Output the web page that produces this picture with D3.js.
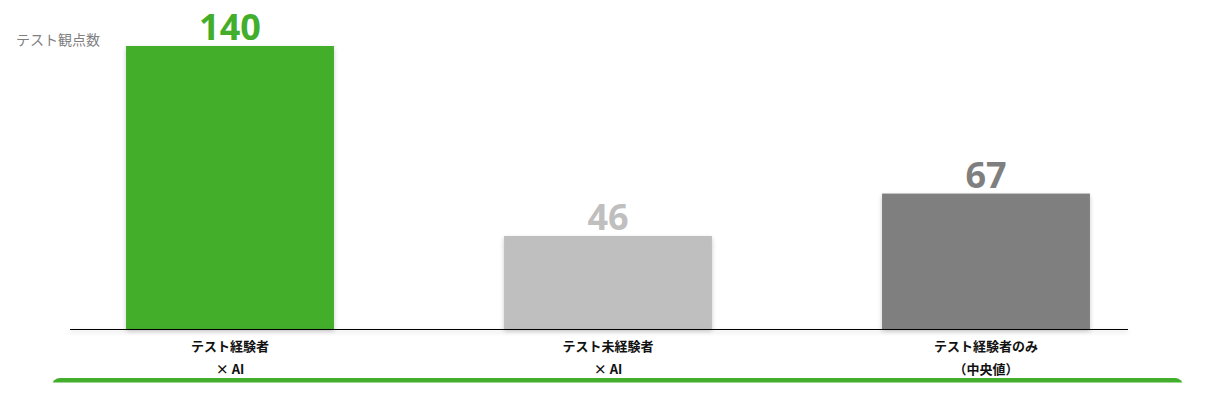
<!DOCTYPE html>
<html>
<head>
<meta charset="utf-8">
<script src="https://cdn.jsdelivr.net/npm/d3@7"></script>
<style>
  body { margin: 0; background: #fff; }
  svg { display: block; }
</style>
</head>
<body>
<svg id="chart" width="1227" height="402"></svg>
<script>
// data
const categories = [["テスト経験者", "× AI"], ["テスト未経験者", "× AI"], ["テスト経験者のみ", "（中央値）"]];
const values = [140, 46, 67];
const barColors = ["#43AE2B", "#BFBFBF", "#7F7F7F"];
const yTitle = "テスト観点数";

const svg = d3.select("#chart");
const font = "'Noto Sans CJK JP', 'Open Sans', sans-serif";

const baseY = 329;
const x = d3.scaleBand()
  .domain(d3.range(values.length))
  .range([41, 1175])
  .paddingInner(0.45)
  .paddingOuter(0.225);

const y = d3.scaleLinear()
  .domain([0, 140])
  .range([baseY, 46]);

// shadow filter
const defs = svg.append("defs");
const f = defs.append("filter").attr("id", "shadow")
  .attr("filterUnits", "userSpaceOnUse")
  .attr("x", 0).attr("y", 0).attr("width", 1227).attr("height", 402);
f.append("feDropShadow").attr("dx", 0).attr("dy", 2).attr("stdDeviation", 2).attr("flood-color", "#000").attr("flood-opacity", 0.22);

defs.append("clipPath").attr("id", "strip")
  .append("rect").attr("x", 0).attr("y", 378).attr("width", 1227).attr("height", 4.5);

// bottom green strip (top edge of a rounded panel)
svg.append("rect")
  .attr("x", 52).attr("y", 378)
  .attr("width", 1131).attr("height", 40)
  .attr("rx", 8)
  .attr("fill", "#43AE2B")
  .attr("clip-path", "url(#strip)");

// bars
svg.selectAll("rect.bar")
  .data(values)
  .enter()
  .append("rect")
  .classed("bar", true)
  .attr("x", (d, i) => x(i))
  .attr("y", d => y(d))
  .attr("width", x.bandwidth())
  .attr("height", d => baseY - y(d))
  .attr("fill", (d, i) => barColors[i])
  .attr("filter", "url(#shadow)");

// axis line
svg.append("line")
  .attr("x1", 70).attr("x2", 1128)
  .attr("y1", baseY + 0.5).attr("y2", baseY + 0.5)
  .attr("stroke", "#000").attr("stroke-width", 1.2)
  .attr("filter", "url(#shadow)");

// value labels
svg.selectAll("text.val")
  .data(values)
  .enter()
  .append("text")
  .classed("val", true)
  .attr("x", (d, i) => x(i) + x.bandwidth() / 2)
  .attr("y", d => y(d) - 6)
  .attr("text-anchor", "middle")
  .attr("font-family", "'Open Sans', 'Liberation Sans', sans-serif")
  .attr("font-weight", "bold")
  .attr("font-size", 36)
  .attr("fill", (d, i) => barColors[i])
  .text(d => d);

// category labels
const cat = svg.selectAll("text.cat")
  .data(categories)
  .enter()
  .append("text")
  .classed("cat", true)
  .attr("text-anchor", "middle")
  .attr("font-family", font)
  .attr("font-weight", "bold")
  .attr("font-size", 13)
  .attr("fill", "#111");
cat.selectAll("tspan")
  .data((d, i) => d.map(t => ({ t, i })))
  .enter()
  .append("tspan")
  .attr("x", d => x(d.i) + x.bandwidth() / 2)
  .attr("y", (d, j) => 351 + j * 23)
  .text(d => d.t);

// y title
svg.append("text")
  .attr("x", 16).attr("y", 45)
  .attr("font-family", font)
  .attr("font-size", 14)
  .attr("fill", "#7F7F7F")
  .text(yTitle);
</script>
</body>
</html>
